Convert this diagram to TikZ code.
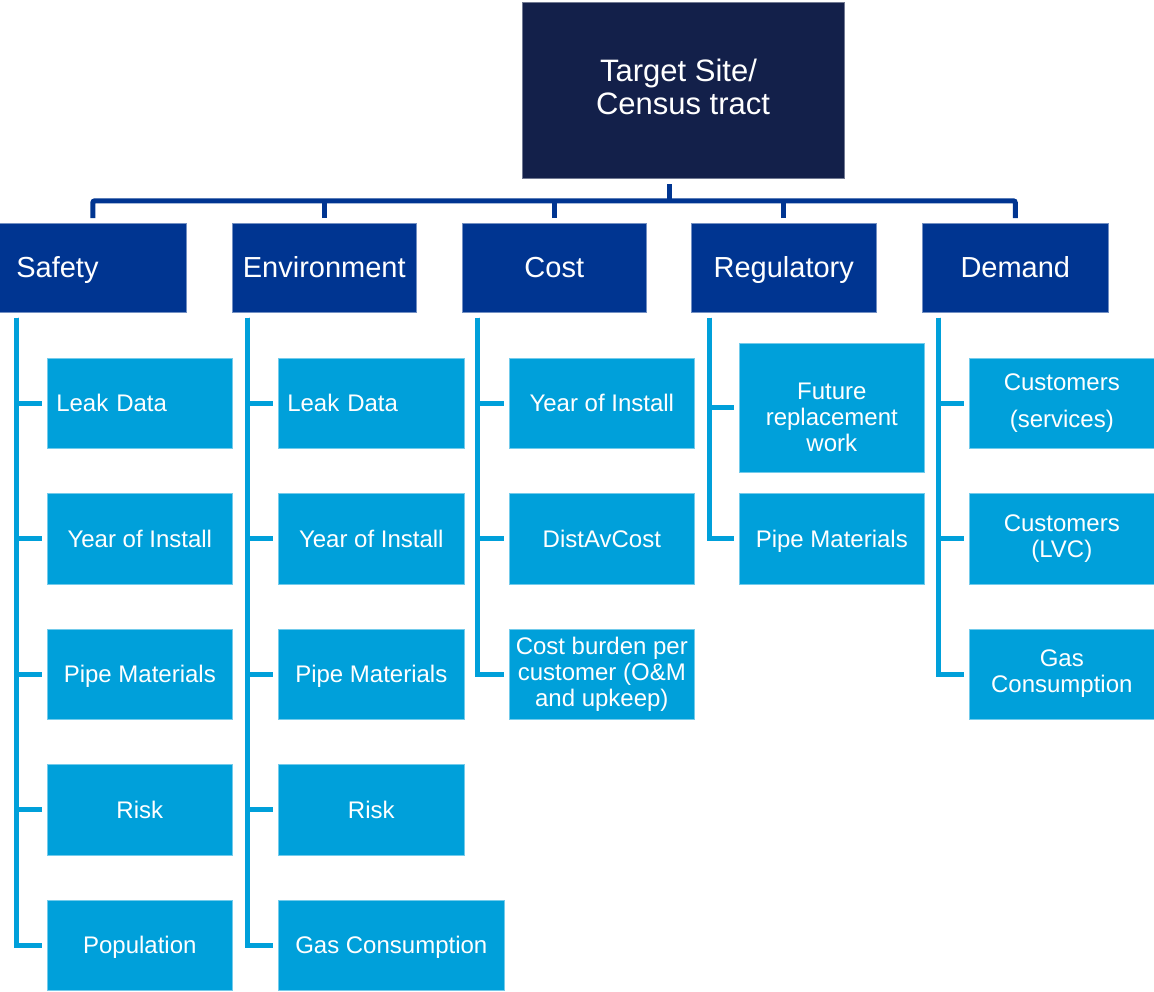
\documentclass[tikz,border=0pt]{standalone}
\usepackage{fontspec}
\setmainfont{Liberation Sans}
\definecolor{topnavy}{RGB}{19,32,74}
\definecolor{catblue}{RGB}{0,53,145}
\definecolor{leafblue}{RGB}{0,160,218}
\begin{document}
\begin{tikzpicture}[x=1pt,y=-1pt,
  topbox/.style={fill=topnavy, draw=topnavy!60!white, line width=0.6pt, text=white, anchor=north west, inner sep=0pt, minimum width=321.5pt, minimum height=176.5pt, align=center, font=\fontsize{31}{33}\selectfont},
  cat/.style={fill=catblue, draw=catblue!55!white, line width=0.6pt, text=white, anchor=north west, inner sep=0pt, minimum height=88.5pt, text height=20.8pt, text depth=0pt, font=\fontsize{29}{33}\selectfont},
  leaf/.style={fill=leafblue, draw=leafblue!55!white, line width=0.6pt, text=white, anchor=north west, inner sep=0pt, minimum height=90.5pt, minimum width=185pt, align=center, font=\fontsize{24}{26}\selectfont},
  oneline/.style={text height=17.2pt, text depth=0pt},
  leaftext/.style={text=white, align=center, inner sep=0pt, font=\fontsize{24}{26}\selectfont},
  bus/.style={draw=catblue, line width=5pt, rounded corners=2pt},
  sub/.style={draw=leafblue, line width=5pt},
]
\useasboundingbox (0,0) rectangle (1154,991);

% root
\node[topbox] (top) at (522,1.5) {Target Site/\hspace*{9pt}\\Census tract\rule[-7pt]{0pt}{7pt}};

% categories
\node[cat, minimum width=187pt, text width=153pt, inner xsep=17pt, align=left] (safety) at (-1,223) {Safety};
\node[cat, minimum width=184pt] (env) at (232,223) {Environment};
\node[cat, minimum width=184pt] (cost) at (462,223) {Cost};
\node[cat, minimum width=185pt] (reg) at (691,223) {Regulatory};
\node[cat, minimum width=186pt] (dem) at (922,223) {Demand};

% safety leaves
\node[leaf, oneline, text width=167pt, inner xsep=9pt, align=left] (s1) at (47,357.5) {Leak Data};
\node[leaf, oneline] (s2) at (47,493) {Year of Install};
\node[leaf, oneline] (s3) at (47,628.5) {Pipe Materials};
\node[leaf, oneline] (s4) at (47,764) {Risk};
\node[leaf, oneline] (s5) at (47,899.5) {Population};

% environment leaves
\node[leaf, oneline, minimum width=186pt, text width=168pt, inner xsep=9pt, align=left] (e1) at (278,357.5) {Leak Data};
\node[leaf, oneline, minimum width=186pt] (e2) at (278,493) {Year of Install};
\node[leaf, oneline, minimum width=186pt] (e3) at (278,628.5) {Pipe Materials};
\node[leaf, oneline, minimum width=186pt] (e4) at (278,764) {Risk};
\node[leaf, oneline, minimum width=226pt] (e5) at (278,899.5) {Gas Consumption};

% cost leaves
\node[leaf, oneline] (c1) at (509,357.5) {Year of Install};
\node[leaf, oneline] (c2) at (509,493) {DistAvCost};
\node[leaf] (c3) at (509,628.5) {Cost burden per\\customer (O\&M\\and upkeep)};

% regulatory leaves
\node[leaf, minimum height=129pt] (g1) at (739,343) {};
\node[leaftext] (g1t) at ([yshift=-10pt]g1.center) {Future\\replacement\\work};
\node[leaf, oneline] (g2) at (739,493) {Pipe Materials};

% demand leaves
\node[leaf] (d1) at (969,357.5) {Customers\\[11pt](services)};
\node[leaf] (d2) at (969,493) {Customers\\(LVC)};
\node[leaf] (d3) at (969,628.5) {Gas\\Consumption};

% bus from root to categories
\coordinate (hub) at (669,200.8);
\draw[bus, shorten >=5pt] (hub) -- (hub |- top.south);
\draw[bus] ([yshift=5pt]safety.north) |- (hub) -| ([yshift=5pt]dem.north);
\draw[bus] ([yshift=5pt]env.north) -- (env.north |- hub);
\draw[bus] ([yshift=5pt]cost.north) -- (cost.north |- hub);
\draw[bus] ([yshift=5pt]reg.north) -- (reg.north |- hub);

% spines
\coordinate (sS) at (16.8,317.7);
\coordinate (sE) at (247,317.7);
\coordinate (sC) at (477,317.7);
\coordinate (sG) at (709,317.7);
\coordinate (sD) at (938.8,317.7);
\foreach \n in {s1,s2,s3,s4,s5} \draw[sub] (sS) |- ([xshift=-5pt]\n.west);
\foreach \n in {e1,e2,e3,e4,e5} \draw[sub] (sE) |- ([xshift=-5pt]\n.west);
\foreach \n in {c1,c2,c3} \draw[sub] (sC) |- ([xshift=-5pt]\n.west);
\foreach \n in {g1,g2} \draw[sub] (sG) |- ([xshift=-5pt]\n.west);
\foreach \n in {d1,d2,d3} \draw[sub] (sD) |- ([xshift=-5pt]\n.west);
\end{tikzpicture}
\end{document}
